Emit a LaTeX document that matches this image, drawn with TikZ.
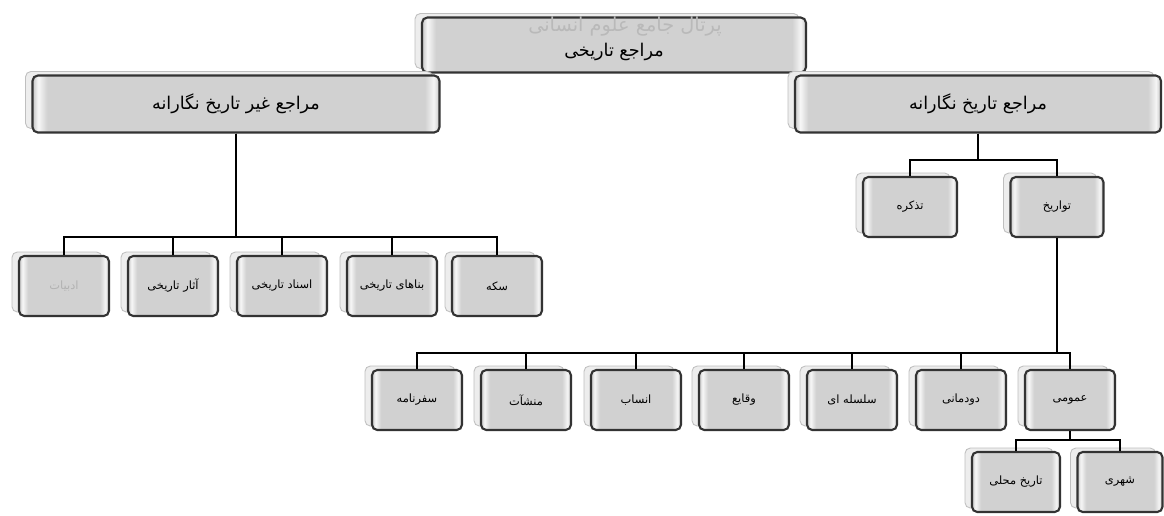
\documentclass[tikz,border=0pt]{standalone}
\usepackage{fontspec}
\usetikzlibrary{shadows}
\newfontfamily\farsi[Script=Arabic]{DejaVu Sans}
\TeXXeTstate=1
\newcommand{\fatxt}[1]{{\farsi\beginR #1\endR}}
\pgfdeclarehorizontalshading{boxshade}{100bp}{color(0bp)=(gray!45); color(25bp)=(gray!45);
  color(27bp)=(gray!6); color(30bp)=(gray!36); color(70bp)=(gray!36); color(73bp)=(gray!8);
  color(75bp)=(gray!45); color(100bp)=(gray!45)}
\pgfdeclarehorizontalshading{bigshade}{100bp}{color(0bp)=(gray!45); color(25bp)=(gray!45);
  color(25.7bp)=(gray!6); color(26.8bp)=(gray!36); color(73.2bp)=(gray!36); color(74.3bp)=(gray!8);
  color(75bp)=(gray!45); color(100bp)=(gray!45)}

\begin{document}
\begin{tikzpicture}[x=0.02cm, y=-0.02cm,
    box/.style={draw=black!80, line width=1.2pt, rounded corners=3pt,
      shade, shading=boxshade,
      minimum width=1.8cm, minimum height=1.2cm, inner sep=1pt,
      font=\fontsize{6.5}{7}\selectfont,
      copy shadow={shadow xshift=-0.14cm, shadow yshift=0.08cm,
        fill=gray!14, draw=gray!50, line width=0.5pt}},
    bigbox/.style={box, shading=bigshade, font=\normalsize, minimum height=1.14cm},
    link/.style={line width=1.3pt}]
    \useasboundingbox (0,0) rectangle (1164,515);

    % top levels
    \node[bigbox, minimum width=7.68cm, minimum height=1.1cm] (sources) at (614,45) {\raisebox{-1.5ex}[0pt][0pt]{\fatxt{مراجع تاریخی}}};
    \node[bigbox, minimum width=8.14cm] (nonhist) at (236,104) {\fatxt{مراجع غیر تاریخ نگارانه}};
    \node[bigbox, minimum width=7.32cm] (hist) at (978,104) {\fatxt{مراجع تاریخ نگارانه}};

    % non historiographic sources
    \node[box, text=gray!60] (n1) at (64,286) {\fatxt{ادبیات}};
    \node[box] (n2) at (173,286) {\fatxt{آثار تاریخی}};
    \node[box] (n3) at (282,286) {\fatxt{اسناد تاریخی}};
    \node[box] (n4) at (392,286) {\fatxt{بناهای تاریخی}};
    \node[box] (n5) at (497,286) {\fatxt{سکه}};

    % historiographic sources
    \node[box, minimum width=1.88cm] (tazkira) at (910,207) {\fatxt{تذکره}};
    \node[box, minimum width=1.86cm] (tarikh) at (1057,207) {\fatxt{تواریخ}};

    \node[box] (b1) at (417,400) {\fatxt{سفرنامه}};
    \node[box] (b2) at (526,400) {\fatxt{منشآت}};
    \node[box] (b3) at (636,400) {\fatxt{انساب}};
    \node[box] (b4) at (744,400) {\fatxt{وقایع}};
    \node[box] (b5) at (852,400) {\fatxt{سلسله ای}};
    \node[box] (b6) at (961,400) {\fatxt{دودمانی}};
    \node[box] (b7) at (1070,400) {\fatxt{عمومی}};

    \node[box, minimum width=1.76cm] (c1) at (1016,482) {\fatxt{تاریخ محلی}};
    \node[box, minimum width=1.7cm] (c2) at (1120,482) {\fatxt{شهری}};

    % connectors
    \coordinate (barA) at (0,237);
    \coordinate (barB) at (0,160);
    \coordinate (barC) at (0,353);
    \coordinate (barD) at (0,440);
    \foreach \c in {n1,n2,n3,n4,n5}
      \draw[link] (nonhist.south) |- (\c.north |- barA) -- (\c.north);
    \foreach \c in {tazkira,tarikh}
      \draw[link] (hist.south) |- (\c.north |- barB) -- (\c.north);
    \foreach \c in {b1,b2,b3,b4,b5,b6,b7}
      \draw[link] (tarikh.south) |- (\c.north |- barC) -- (\c.north);
    \foreach \c in {c1,c2}
      \draw[link] (b7.south) |- (\c.north |- barD) -- (\c.north);

    % watermark
    \node[text=gray!55, font=\fontsize{11}{11}\selectfont] (wmark) at (625,27) {\fatxt{پرتال جامع علوم انسانی}};
\end{tikzpicture}
\end{document}
